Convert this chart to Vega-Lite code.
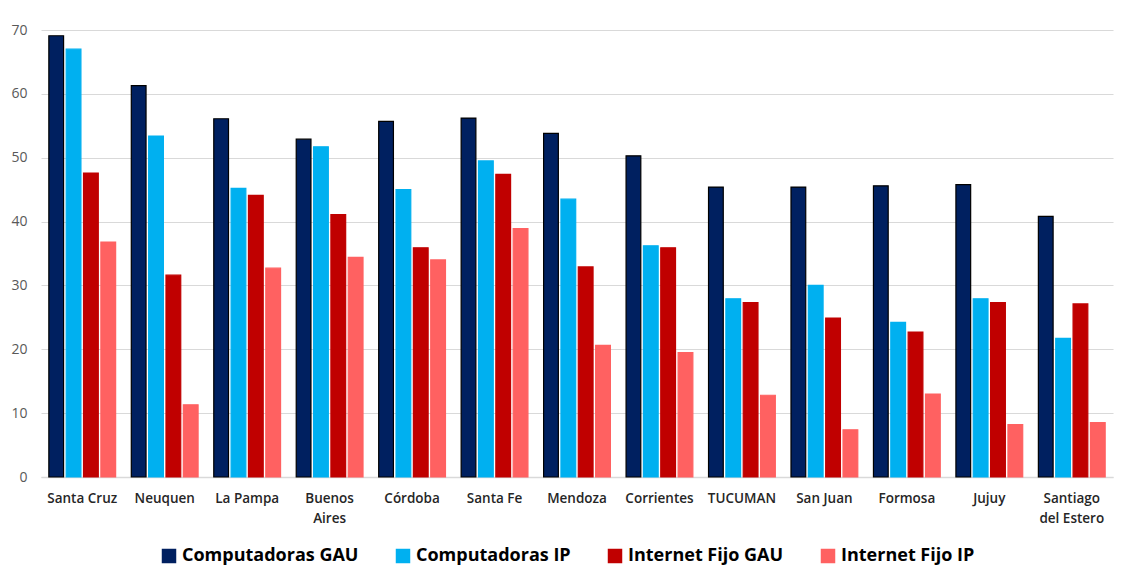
{
  "$schema": "https://vega.github.io/schema/vega-lite/v6.json",
  "width": 1072,
  "height": 447,
  "autosize": "none",
  "padding": {"left": 41, "top": 30, "right": 14, "bottom": 91},
  "background": "#ffffff",
  "data": {
    "values": [
      {"provincia": "Santa Cruz", "serie": "Computadoras GAU", "valor": 69.1},
      {"provincia": "Santa Cruz", "serie": "Computadoras IP", "valor": 67.0},
      {"provincia": "Santa Cruz", "serie": "Internet Fijo GAU", "valor": 47.6},
      {"provincia": "Santa Cruz", "serie": "Internet Fijo IP", "valor": 36.8},
      {"provincia": "Neuquen", "serie": "Computadoras GAU", "valor": 61.3},
      {"provincia": "Neuquen", "serie": "Computadoras IP", "valor": 53.4},
      {"provincia": "Neuquen", "serie": "Internet Fijo GAU", "valor": 31.6},
      {"provincia": "Neuquen", "serie": "Internet Fijo IP", "valor": 11.3},
      {"provincia": "La Pampa", "serie": "Computadoras GAU", "valor": 56.1},
      {"provincia": "La Pampa", "serie": "Computadoras IP", "valor": 45.2},
      {"provincia": "La Pampa", "serie": "Internet Fijo GAU", "valor": 44.1},
      {"provincia": "La Pampa", "serie": "Internet Fijo IP", "valor": 32.7},
      {"provincia": "Buenos Aires", "serie": "Computadoras GAU", "valor": 52.9},
      {"provincia": "Buenos Aires", "serie": "Computadoras IP", "valor": 51.7},
      {"provincia": "Buenos Aires", "serie": "Internet Fijo GAU", "valor": 41.1},
      {"provincia": "Buenos Aires", "serie": "Internet Fijo IP", "valor": 34.4},
      {"provincia": "Córdoba", "serie": "Computadoras GAU", "valor": 55.7},
      {"provincia": "Córdoba", "serie": "Computadoras IP", "valor": 45.0},
      {"provincia": "Córdoba", "serie": "Internet Fijo GAU", "valor": 35.9},
      {"provincia": "Córdoba", "serie": "Internet Fijo IP", "valor": 34.0},
      {"provincia": "Santa Fe", "serie": "Computadoras GAU", "valor": 56.2},
      {"provincia": "Santa Fe", "serie": "Computadoras IP", "valor": 49.5},
      {"provincia": "Santa Fe", "serie": "Internet Fijo GAU", "valor": 47.4},
      {"provincia": "Santa Fe", "serie": "Internet Fijo IP", "valor": 38.9},
      {"provincia": "Mendoza", "serie": "Computadoras GAU", "valor": 53.8},
      {"provincia": "Mendoza", "serie": "Computadoras IP", "valor": 43.5},
      {"provincia": "Mendoza", "serie": "Internet Fijo GAU", "valor": 32.9},
      {"provincia": "Mendoza", "serie": "Internet Fijo IP", "valor": 20.6},
      {"provincia": "Corrientes", "serie": "Computadoras GAU", "valor": 50.3},
      {"provincia": "Corrientes", "serie": "Computadoras IP", "valor": 36.2},
      {"provincia": "Corrientes", "serie": "Internet Fijo GAU", "valor": 35.9},
      {"provincia": "Corrientes", "serie": "Internet Fijo IP", "valor": 19.5},
      {"provincia": "TUCUMAN", "serie": "Computadoras GAU", "valor": 45.4},
      {"provincia": "TUCUMAN", "serie": "Computadoras IP", "valor": 27.9},
      {"provincia": "TUCUMAN", "serie": "Internet Fijo GAU", "valor": 27.3},
      {"provincia": "TUCUMAN", "serie": "Internet Fijo IP", "valor": 12.8},
      {"provincia": "San Juan", "serie": "Computadoras GAU", "valor": 45.4},
      {"provincia": "San Juan", "serie": "Computadoras IP", "valor": 30.0},
      {"provincia": "San Juan", "serie": "Internet Fijo GAU", "valor": 24.9},
      {"provincia": "San Juan", "serie": "Internet Fijo IP", "valor": 7.4},
      {"provincia": "Formosa", "serie": "Computadoras GAU", "valor": 45.6},
      {"provincia": "Formosa", "serie": "Computadoras IP", "valor": 24.2},
      {"provincia": "Formosa", "serie": "Internet Fijo GAU", "valor": 22.7},
      {"provincia": "Formosa", "serie": "Internet Fijo IP", "valor": 13.0},
      {"provincia": "Jujuy", "serie": "Computadoras GAU", "valor": 45.8},
      {"provincia": "Jujuy", "serie": "Computadoras IP", "valor": 27.9},
      {"provincia": "Jujuy", "serie": "Internet Fijo GAU", "valor": 27.3},
      {"provincia": "Jujuy", "serie": "Internet Fijo IP", "valor": 8.2},
      {"provincia": "Santiago del Estero", "serie": "Computadoras GAU", "valor": 40.8},
      {"provincia": "Santiago del Estero", "serie": "Computadoras IP", "valor": 21.7},
      {"provincia": "Santiago del Estero", "serie": "Internet Fijo GAU", "valor": 27.1},
      {"provincia": "Santiago del Estero", "serie": "Internet Fijo IP", "valor": 8.5}
    ]
  },
  "mark": {"type": "bar", "strokeWidth": 1.2},
  "encoding": {
    "x": {
      "field": "provincia",
      "type": "nominal",
      "sort": null,
      "title": null,
      "scale": {"paddingInner": 0.19, "paddingOuter": 0.095},
      "axis": {
        "labelAngle": 0,
        "labelFont": "Open Sans",
        "labelFontSize": 13.5,
        "labelFontWeight": 600,
        "labelColor": "#262626",
        "labelPadding": 14,
        "labelLineHeight": 20,
        "labelExpr": "datum.value == 'Buenos Aires' ? ['Buenos', 'Aires'] : datum.value == 'Santiago del Estero' ? ['Santiago', 'del Estero'] : datum.label",
        "ticks": false,
        "domainColor": "#d9d9d9",
        "domainWidth": 1.5,
        "grid": false
      }
    },
    "xOffset": {
      "field": "serie",
      "type": "nominal",
      "sort": ["Computadoras GAU", "Computadoras IP", "Internet Fijo GAU", "Internet Fijo IP"],
      "scale": {"paddingInner": 0.15, "paddingOuter": 0}
    },
    "y": {
      "field": "valor",
      "type": "quantitative",
      "title": null,
      "scale": {"domain": [0, 70], "nice": false},
      "axis": {
        "values": [0, 10, 20, 30, 40, 50, 60, 70],
        "labelFont": "Open Sans",
        "labelFontSize": 14,
        "labelColor": "#595959",
        "labelPadding": 14,
        "ticks": false,
        "domain": false,
        "gridColor": "#d9d9d9",
        "gridWidth": 1.2
      }
    },
    "color": {
      "field": "serie",
      "type": "nominal",
      "sort": ["Computadoras GAU", "Computadoras IP", "Internet Fijo GAU", "Internet Fijo IP"],
      "scale": {
        "domain": ["Computadoras GAU", "Computadoras IP", "Internet Fijo GAU", "Internet Fijo IP"],
        "range": ["#002060", "#00B0F0", "#C00000", "#FF6161"]
      },
      "legend": {
        "title": null,
        "orient": "none",
        "direction": "horizontal",
        "legendX": 119,
        "legendY": 517,
        "symbolType": "square",
        "symbolSize": 210,
        "symbolStrokeWidth": 0,
        "labelFont": "Open Sans",
        "labelFontSize": 18,
        "labelFontWeight": "bold",
        "labelColor": "#000000",
        "labelOffset": 4,
        "columnPadding": 35,
        "labelLimit": 400
      }
    },
    "stroke": {
      "field": "serie",
      "type": "nominal",
      "scale": {
        "domain": ["Computadoras GAU", "Computadoras IP", "Internet Fijo GAU", "Internet Fijo IP"],
        "range": ["#000000", "#00B0F0", "#C00000", "#FF6161"]
      },
      "legend": null
    }
  },
  "config": {
    "view": {"stroke": null}
  }
}
